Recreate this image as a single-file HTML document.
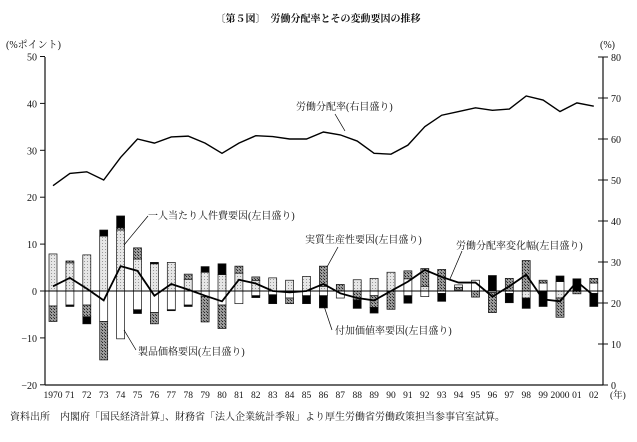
<!DOCTYPE html>
<html><head><meta charset="utf-8"><style>
body{margin:0;background:#fff}
svg text{font-family:"Liberation Serif","Noto Serif CJK SC","Noto Sans CJK JP",serif;fill:#111}
</style></head><body>
<svg width="637" height="437" viewBox="0 0 637 437" xmlns="http://www.w3.org/2000/svg">
<defs>
<pattern id="lt" width="3" height="3" patternUnits="userSpaceOnUse"><rect width="3" height="3" fill="#e6e6e6"/><rect width="1" height="1" fill="#999"/></pattern>
<pattern id="dk" width="3" height="3" patternUnits="userSpaceOnUse"><rect width="3" height="3" fill="#9a9a9a"/><rect width="1" height="1" fill="#222"/><rect x="2" y="2" width="1" height="1" fill="#444"/></pattern>
</defs>
<text x="318" y="22" font-size="10" text-anchor="middle" font-weight="bold">〔第５図〕　労働分配率とその変動要因の推移</text>
<text x="6" y="48" font-size="10">(%ポイント)</text>
<text x="600" y="48" font-size="10">(%)</text>
<g id="axes" stroke="#111" stroke-width="1.2" fill="none">
<line x1="45" y1="57" x2="45" y2="385"/>
<line x1="603" y1="57" x2="603" y2="385"/>
<line x1="45" y1="385" x2="603" y2="385"/>
</g>
<g id="ticks"></g>
<g id="bars"></g>
<line x1="45" y1="291" x2="603" y2="291" stroke="#000" stroke-width="1"/>
<polyline id="chg" fill="none" stroke="#000" stroke-width="1.8"/>
<polyline id="lab" fill="none" stroke="#000" stroke-width="1.4"/>
<g font-size="10">
<text x="148" y="219">一人当たり人件費要因(左目盛り)</text>
<text x="305" y="243">実質生産性要因(左目盛り)</text>
<text x="456" y="249">労働分配率変化幅(左目盛り)</text>
<text x="335" y="334">付加価値率要因(左目盛り)</text>
<text x="138" y="355">製品価格要因(左目盛り)</text>
<text x="296" y="110">労働分配率(右目盛り)</text>
</g>
<g stroke="#000" stroke-width="0.7">
<line x1="148" y1="216" x2="124" y2="245"/>
<line x1="338" y1="247" x2="327" y2="267"/>
<line x1="462" y1="251" x2="450" y2="279"/>
<line x1="332" y1="330" x2="324" y2="306"/>
<line x1="136" y1="350" x2="124" y2="330"/>
<line x1="335" y1="114" x2="345" y2="131"/>
</g>
<text x="10" y="420" font-size="10">資料出所　内閣府「国民経済計算」、財務省「法人企業統計季報」より厚生労働省労働政策担当参事官室試算。</text>
<g id="xl" font-size="9.5"></g>
</svg>
<script>
const NS="http://www.w3.org/2000/svg";
function el(t,a,p,txt){const e=document.createElementNS(NS,t);for(const k in a)e.setAttribute(k,a[k]);if(txt!==undefined)e.textContent=txt;document.getElementById(p).appendChild(e);return e;}
const X=i=>53+i*16.9, YL=v=>291-v*4.69, YR=v=>385-v*4.1;
for(let v=-20;v<=50;v+=10){el('line',{x1:40,x2:45,y1:YL(v),y2:YL(v),stroke:'#111'},'ticks');el('text',{x:37,y:YL(v)+4,'font-size':10,'text-anchor':'end'},'ticks',v<0?'−'+(-v):v);}
for(let v=0;v<=80;v+=10){el('line',{x1:598,x2:608,y1:YR(v),y2:YR(v),stroke:'#111'},'ticks');el('text',{x:611,y:YR(v)+4,'font-size':10},'ticks',v);}
const yrs=['1970','71','72','73','74','75','76','77','78','79','80','81','82','83','84','85','86','87','88','89','90','91','92','93','94','95','96','97','98','99','2000','01','02'];
yrs.forEach((y,i)=>el('text',{x:X(i),y:398,'text-anchor':'middle'},'xl',y));
el('text',{x:610,y:398},'xl','(年)');
const F={l:'url(#lt)',w:'#fff',d:'url(#dk)',b:'#000'};
const B=[
[['l',0,7.9],['w',0,-3.2],['d',-3.2,-6.5]],
[['l',0,6],['d',6,6.4],['w',0,-3],['b',-3,-3.3]],
[['l',0,7.7],['w',0,-3],['d',-3,-5.5],['b',-5.5,-7]],
[['l',0,11.7],['b',11.7,13],['w',0,-6.5],['d',-6.5,-14.7]],
[['l',0,13],['d',13,13.5],['b',13.5,16],['w',0,-10.2]],
[['l',0,6.8],['d',6.8,9.2],['w',0,-4],['b',-4,-4.8]],
[['l',0,5.8],['b',5.8,6.1],['w',0,-4.6],['d',-4.6,-7]],
[['l',0,6.1],['w',0,-4],['b',-4,-4.2]],
[['l',0,2.5],['d',2.5,3.6],['w',0,-3],['b',-3,-3.3]],
[['l',0,4],['b',4,5.2],['w',0,-1.2],['d',-1.2,-6.6]],
[['l',0,3.5],['b',3.5,5.8],['w',0,-3],['d',-3,-8]],
[['l',0,3.8],['d',3.8,5.3],['w',0,-2.7]],
[['l',0,2.2],['d',2.2,3],['w',0,-1],['b',-1,-1.4]],
[['l',0,2.8],['w',0,-0.8],['b',-0.8,-2.7]],
[['l',0,2.3],['w',0,-1.5],['d',-1.5,-2.7]],
[['l',0,3.1],['w',0,-1],['b',-1,-2.7]],
[['l',0,1],['d',1,5.3],['w',0,-1],['b',-1,-3.6]],
[['d',0,1.4],['w',0,-1.5]],
[['l',0,2.4],['d',0,-1.9],['b',-1.9,-3.7]],
[['l',0,2.7],['w',0,-1],['d',-1,-3.5],['b',-3.5,-4.7]],
[['l',0,4],['d',0,-3.9]],
[['w',0,2.6],['d',2.6,4.3],['w',0,-1],['b',-1,-2.6]],
[['l',0,1],['d',1,4.8],['w',0,-1.2]],
[['d',0,4.6],['w',0,-0.5],['b',-0.5,-2.2]],
[['w',0,1.3],['d',0.2,0.8]],
[['w',0,2.3],['d',0,-1.3]],
[['b',0,3.3],['w',0,-0.3],['d',-0.3,-4.6]],
[['d',0,2.7],['w',0,-0.5],['b',-0.5,-2.5]],
[['d',0,6.5],['l',0,-1.5],['b',-1.5,-3.7]],
[['w',0,1.7],['d',1.7,2.3],['b',0,-3.3]],
[['w',0,2],['b',2,3.2],['l',0,-1.5],['d',-1.5,-5.6]],
[['b',0,2.6],['d',0,-0.6]],
[['w',0,1.7],['d',1.7,2.7],['b',-0.5,-3.3],['w',0,-0.5]]
];
B.forEach((segs,i)=>segs.forEach(([t,a,b])=>{const y1=YL(Math.max(a,b)),y2=YL(Math.min(a,b));el('rect',{x:X(i)-4,y:y1,width:8,height:Math.max(y2-y1,0.5),fill:F[t],stroke:'#111','stroke-width':0.7},'bars');}));
const C=[1,2.8,0.5,-2,5.3,4.3,-1,1.5,0.3,-1,-2.2,2.4,1.6,0,-0.3,0,1.5,-0.5,-1.5,-2,0,2,4.5,3,1.8,1.8,-1.2,1,3.5,-1.8,-2.2,2,-1];
document.getElementById('chg').setAttribute('points',C.map((v,i)=>X(i)+','+YL(v)).join(' '));
const L=[48.6,51.6,52,50,55.5,60,59,60.5,60.7,59,56.5,59,60.8,60.6,60,60,61.7,61,59.5,56.5,56.3,58.5,63,65.8,66.7,67.6,67,67.3,70.5,69.5,66.7,68.8,68];
document.getElementById('lab').setAttribute('points',L.map((v,i)=>X(i)+','+YR(v)).join(' '));
</script>
</body></html>
